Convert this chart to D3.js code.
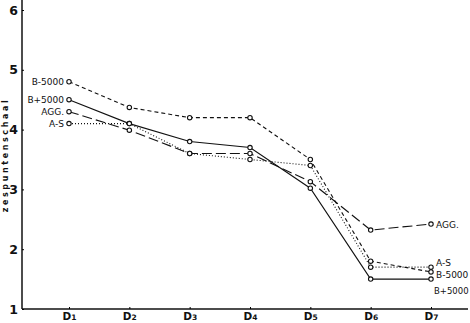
<!DOCTYPE html>
<html>
<head>
<meta charset="utf-8">
<script src="https://cdn.jsdelivr.net/npm/d3@7"></script>
<style>
  body { margin: 0; background: #fff; }
  text { font-family: "DejaVu Sans", sans-serif; fill: #111; }
</style>
</head>
<body>
<div id="chart"></div>
<script>
const categories = ['D1', 'D2', 'D3', 'D4', 'D5', 'D6', 'D7'];
const bMin5000 = [4.8, 4.37, 4.2, 4.2, 3.5, 1.8, 1.62];
const bPlus5000 = [4.5, 4.1, 3.8, 3.7, 3.02, 1.5, 1.5];
const agg = [4.3, 3.99, 3.6, 3.6, 3.13, 2.32, 2.42];
const aS = [4.1, 4.1, 3.6, 3.5, 3.4, 1.7, 1.7];
const yTicks = [1, 2, 3, 4, 5, 6];

const series = [
  { name: 'B-5000', values: bMin5000, dash: '4,3', rdx: 5, rdy: 3 },
  { name: 'B+5000', values: bPlus5000, dash: null, rdx: 3, rdy: 11 },
  { name: 'AGG.', values: agg, dash: '10,4', rdx: 5, rdy: 0 },
  { name: 'A-S', values: aS, dash: '1,2', rdx: 5, rdy: -5 }
];

const width = 470, height = 323;
const svg = d3.select('#chart').append('svg')
  .attr('width', width).attr('height', height);

const x = d3.scalePoint().domain(categories).range([69, 431]);
const y = d3.scaleLinear().domain([1, 6]).range([309, 10]);

// axes
svg.append('line').attr('x1', 22).attr('x2', 468).attr('y1', 309).attr('y2', 309)
  .style('stroke', '#111').style('stroke-width', 1.3);
svg.append('line').attr('x1', 22).attr('x2', 22).attr('y1', 0).attr('y2', 309)
  .style('stroke', '#111').style('stroke-width', 1.5);

const yAxis = svg.append('g').attr('transform', 'translate(22,0)')
  .call(d3.axisLeft(y).tickValues(yTicks).tickSize(-2).tickPadding(4).tickFormat(d3.format('d')));
yAxis.select('.domain').remove();
yAxis.selectAll('text').style('font-size', '12.5px').style('font-weight', 'bold');

const xAxis = svg.append('g').attr('transform', 'translate(0,309)')
  .call(d3.axisBottom(x).tickSize(-2).tickPadding(3).tickFormat(''));
xAxis.select('.domain').remove();
xAxis.selectAll('.tick').append('text')
  .attr('y', 11).attr('text-anchor', 'middle')
  .style('font-size', '10.5px').style('font-weight', 'bold')
  .each(function (d) {
    const t = d3.select(this);
    t.append('tspan').text(d.charAt(0));
    t.append('tspan').style('font-size', '7.5px').text(d.slice(1));
  });

// y label
svg.append('text')
  .attr('transform', 'translate(8,155) rotate(-90)')
  .attr('text-anchor', 'middle')
  .style('font-size', '8px').style('font-weight', 'bold').style('letter-spacing', '2.6px')
  .text('zespuntenschaal');

const line = d3.line().x((d, i) => x(categories[i])).y(d => y(d));

series.forEach(s => {
  svg.append('path').datum(s.values)
    .attr('d', line)
    .style('fill', 'none').style('stroke', '#111').style('stroke-width', 1.1)
    .style('stroke-dasharray', s.dash);
});

series.forEach(s => {
  svg.selectAll(null).data(s.values).enter().append('circle')
    .attr('cx', (d, i) => x(categories[i])).attr('cy', d => y(d)).attr('r', 2.2)
    .style('fill', '#fff').style('stroke', '#111').style('stroke-width', 1.1);

  svg.append('text')
    .attr('x', x(categories[0]) - 5).attr('y', y(s.values[0]) + 3.5)
    .attr('text-anchor', 'end')
    .style('font-size', '9px')
    .text(s.name);

  const last = s.values.length - 1;
  svg.append('text')
    .attr('x', x(categories[last]) + s.rdx).attr('y', y(s.values[last]) + 3.5 + s.rdy)
    .style('font-size', s.name === 'B+5000' ? '8.5px' : '9px')
    .text(s.name);
});
</script>
</body>
</html>
